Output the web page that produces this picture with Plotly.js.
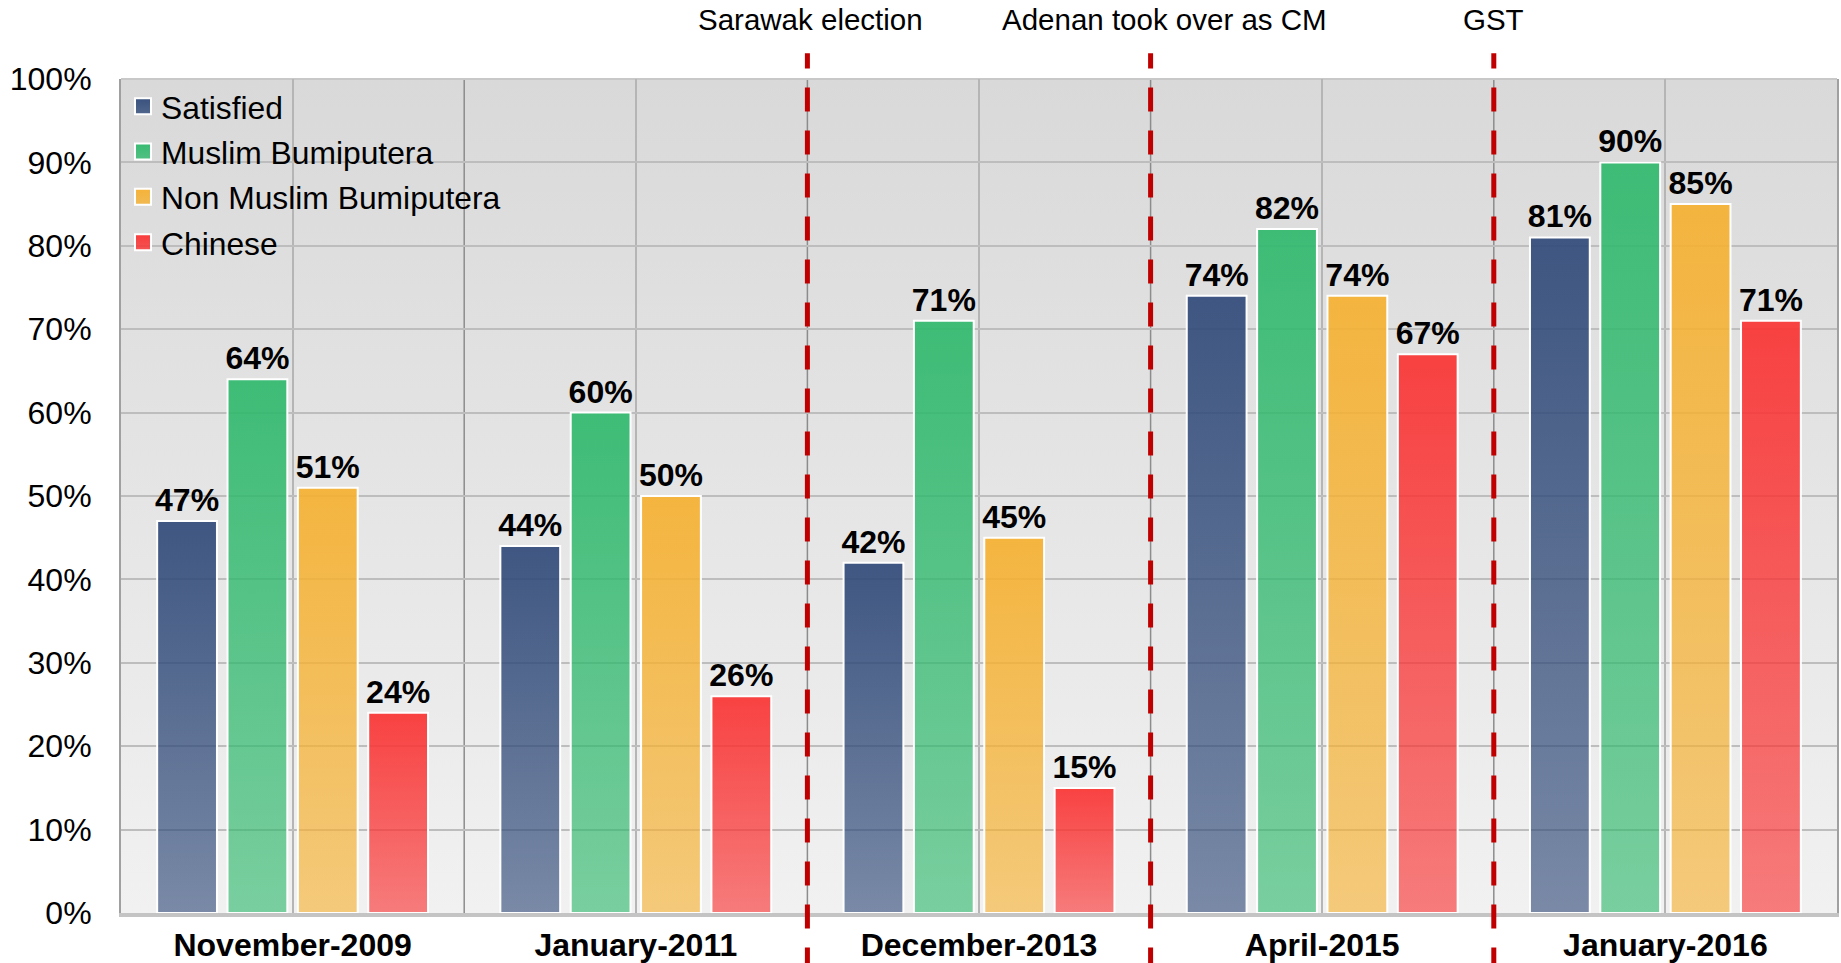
<!DOCTYPE html>
<html><head><meta charset="utf-8">
<script src="https://cdn.plot.ly/plotly-3.0.1.min.js"></script>
<style>html,body{margin:0;padding:0;background:#fff}</style>
</head><body><div id="chart" style="width:1841px;height:963px"></div>
<script>
const categories = ['November-2009','January-2011','December-2013','April-2015','January-2016'];
const seriesNames = ['Satisfied','Muslim Bumiputera','Non Muslim Bumiputera','Chinese'];
const satisfied = [47,44,42,74,81];
const muslimBumiputera = [64,60,71,82,90];
const nonMuslimBumiputera = [51,50,45,74,85];
const chinese = [24,26,15,67,71];
const eventLabels = ['Sarawak election','Adenan took over as CM','GST'];
const eventAfterIndex = [1,2,3];

const seriesValues = [satisfied, muslimBumiputera, nonMuslimBumiputera, chinese];
const baseColors = ['rgb(48,74,121)','rgb(48,185,109)','rgb(246,177,49)','rgb(250,51,51)'];
const FONT = 'Liberation Sans, Arial, sans-serif';

const traces = seriesValues.map((vals,i)=>({
  type:'bar', name:seriesNames[i], x:categories, y:vals, legendgroup:'g'+i,
  marker:{color:baseColors[i], line:{color:'#ffffff', width:2}},
  text: vals.map(v=>v+'%'), texttemplate:'%{text}', textposition:'outside', cliponaxis:false,
  constraintext:'none',
  textfont:{family:FONT, size:32, color:'#000', weight:'bold'},
  hoverinfo:'skip'
}));

const shapes = [];
for (let k=0;k<categories.length-1;k++){
  shapes.push({type:'line', xref:'x', yref:'paper', x0:k+0.5, x1:k+0.5, y0:0, y1:1,
    line:{color:'#8c8c8c', width:1.5}, layer:'below'});
}
shapes.push({type:'line', xref:'paper', yref:'paper', x0:0, x1:1, y0:1, y1:1, line:{color:'#c8c8c8', width:2}, layer:'below'});
eventAfterIndex.forEach(idx=>{
  shapes.push({type:'line', xref:'x', yref:'paper', x0:idx+0.5, x1:idx+0.5, y0:-0.07, y1:1.031,
    line:{color:'#c00000', width:5, dash:'24px,19px'}, layer:'above'});
});
const annotations = eventLabels.map((t,i)=>({
  text:t, xref:'x', yref:'paper', x:eventAfterIndex[i]+0.5, y:1.071, showarrow:false,
  xanchor:'center', yanchor:'middle', xshift:(i===1?14:(i===0?3:0)),
  font:{family:FONT, size:29.5, color:'#000'}
}));

const layout = {
  width:1841, height:963,
  margin:{l:121, r:4, t:79, b:50},
  paper_bgcolor:'#ffffff', plot_bgcolor:'#e6e6e6',
  font:{family:FONT, color:'#000'},
  barmode:'group', bargap:0.18, bargroupgap:0.15,
  showlegend:true,
  legend:{x:0, y:1, xanchor:'left', yanchor:'top', bgcolor:'rgba(0,0,0,0)', tracegroupgap:1,
    font:{family:FONT, size:31.8, color:'#000'}, itemwidth:30, traceorder:'grouped'},
  xaxis:{type:'category', range:[-0.5,4.5], showgrid:true, gridcolor:'#b5b5b5', gridwidth:2,
    showline:true, linecolor:'#c4c4c4', linewidth:4, ticks:'',
    tickfont:{family:FONT, size:32, color:'#000', weight:'bold'}, ticklabelstandoff:1, fixedrange:true},
  yaxis:{range:[0,100], dtick:10, ticksuffix:'%', showgrid:true, gridcolor:'#bdbdbd', gridwidth:2,
    zeroline:false, showline:true, mirror:true, linecolor:'#a0a0a0', linewidth:2, ticks:'',
    tickfont:{family:FONT, size:32, color:'#000'}, ticklabelstandoff:21, fixedrange:true},
  shapes:shapes, annotations:annotations
};

const gd = document.getElementById('chart');
Plotly.newPlot(gd, traces, layout, {displayModeBar:false, staticPlot:true}).then(()=>{
  const NS='http://www.w3.org/2000/svg';
  const svg = gd.querySelector('.main-svg');
  const defs = document.createElementNS(NS,'defs');
  svg.insertBefore(defs, svg.firstChild);
  function mk(id, stops){
    const g = document.createElementNS(NS,'linearGradient');
    g.setAttribute('id',id); g.setAttribute('x1','0'); g.setAttribute('y1','0');
    g.setAttribute('x2','0'); g.setAttribute('y2','1');
    stops.forEach(s=>{const st=document.createElementNS(NS,'stop');
      st.setAttribute('offset',s[0]); st.setAttribute('stop-color',s[1]); st.setAttribute('stop-opacity',s[2]); g.appendChild(st);});
    defs.appendChild(g);
  }
  baseColors.forEach((c,i)=>mk('barg'+i, [[0,c,0.92],[1,c,0.62]]));
  baseColors.forEach((c,i)=>mk('legg'+i, [[0,c,0.95],[1,c,0.8]]));
  mk('bgg', [[0,'#d9d9d9',1],[1,'#f1f1f1',1]]);
  gd.querySelectorAll('.barlayer .trace').forEach((tr,i)=>{
    tr.querySelectorAll('.point path').forEach(p=>{p.style.fill='url(#barg'+i+')'; p.style.fillOpacity=1;});
  });
  gd.querySelectorAll('.legend .traces').forEach((tr,i)=>{
    tr.querySelectorAll('.legendpoints path').forEach(p=>{
      p.setAttribute('d','M-8,-8H8V8H-8Z');
      p.setAttribute('transform','translate(22,0)');
      p.style.fill='url(#legg'+i+')'; p.style.fillOpacity=1;
      p.style.stroke='#ffffff'; p.style.strokeWidth='2px'; p.style.strokeOpacity=1;
    });
  });
  gd.querySelectorAll('rect.bg').forEach(r=>{ if(!r.closest('.legend')) r.style.fill='url(#bgg)'; });
});
</script></body></html>
